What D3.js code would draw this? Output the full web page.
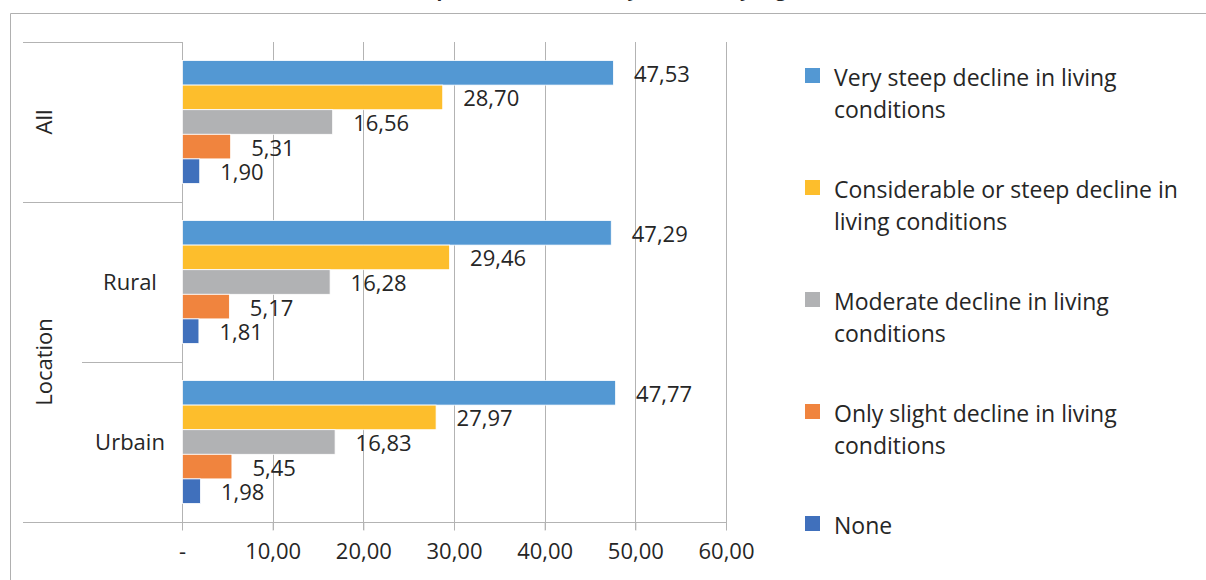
<!DOCTYPE html>
<html>
<head>
<meta charset="utf-8">
<script src="https://cdn.jsdelivr.net/npm/d3@7"></script>
<style>
  body { margin: 0; background: #fff; }
  svg text { font-family: "Open Sans", Lato, sans-serif; fill: #262626; }
</style>
</head>
<body>
<svg width="1206" height="580"></svg>
<script>
// data
var groups = ["All", "Rural", "Urbain"];
var series = [
  "Very steep decline in living conditions",
  "Considerable or steep decline in living conditions",
  "Moderate decline in living conditions",
  "Only slight decline in living conditions",
  "None"
];
var legendLines = [
  ["Very steep decline in living", "conditions"],
  ["Considerable or steep decline in", "living conditions"],
  ["Moderate decline in living", "conditions"],
  ["Only slight decline in living", "conditions"],
  ["None"]
];
var valAll = [47.53, 28.70, 16.56, 5.31, 1.90];
var valRural = [47.29, 29.46, 16.28, 5.17, 1.81];
var valUrbain = [47.77, 27.97, 16.83, 5.45, 1.98];
var ticks = [0, 10, 20, 30, 40, 50, 60];
var colors = ["#5398d3", "#fdbe2c", "#b1b2b4", "#f0843e", "#4070bc"];

var svg = d3.select("svg");
var values = { "All": valAll, "Rural": valRural, "Urbain": valUrbain };

var x = d3.scaleLinear().domain([0, 60]).range([182, 726]);
var y = d3.scaleBand().domain(groups).range([42, 522]);
var ys = d3.scaleBand().domain(series).range([18.5, 141.5]);
var color = d3.scaleOrdinal().domain(series).range(colors);
var fmt = function(v) { return d3.format(".2f")(v).replace(".", ","); };

// outer frame + title (cut by the top edge, as in the source)
svg.append("path")
  .attr("d", "M10.5,580 V13.5 H1206")
  .attr("fill", "none").attr("stroke", "#b0b0b0");
svg.append("text")
  .attr("x", 600).attr("y", -4)
  .attr("text-anchor", "middle")
  .style("font-weight", "bold").style("font-size", "19px")
  .text("Perceptions of the severity (%) level by region");

// gridlines
svg.append("g").selectAll("line")
  .data(ticks.slice(1))
  .enter().append("line")
  .attr("x1", function(d) { return Math.round(x(d)) + 0.5; })
  .attr("x2", function(d) { return Math.round(x(d)) + 0.5; })
  .attr("y1", 42).attr("y2", 530)
  .attr("stroke", "#b3b3b3");

// bottom axis
var xAxis = d3.axisBottom(x).tickValues(ticks).tickSize(8).tickPadding(13)
  .tickFormat(function(d) { return d === 0 ? "-" : fmt(d); });
var gx = svg.append("g").attr("transform", "translate(0,522.5)").call(xAxis);
gx.select(".domain").remove();
gx.selectAll(".tick line").attr("stroke", "#b3b3b3");
gx.selectAll(".tick text").style("font-size", "22px").style("fill", "#262626");
svg.append("line").attr("x1", 23).attr("x2", 726).attr("y1", 522.5).attr("y2", 522.5).attr("stroke", "#b3b3b3");

// left category structure
svg.append("line").attr("x1", 182.5).attr("x2", 182.5).attr("y1", 42).attr("y2", 530).attr("stroke", "#b3b3b3");
svg.append("line").attr("x1", 23).attr("x2", 182).attr("y1", 42.5).attr("y2", 42.5).attr("stroke", "#b3b3b3");
svg.append("line").attr("x1", 23).attr("x2", 182).attr("y1", y("Rural") + 0.5).attr("y2", y("Rural") + 0.5).attr("stroke", "#b3b3b3");
svg.append("line").attr("x1", 82).attr("x2", 182).attr("y1", y("Urbain") + 0.5).attr("y2", y("Urbain") + 0.5).attr("stroke", "#b3b3b3");

svg.append("text")
  .attr("transform", "translate(52," + (y("All") + y.bandwidth() / 2) + ") rotate(-90)")
  .attr("text-anchor", "middle").style("font-size", "22px").text("All");
svg.append("text")
  .attr("transform", "translate(52,362) rotate(-90)")
  .attr("text-anchor", "middle").style("font-size", "22px").text("Location");
["Rural", "Urbain"].forEach(function(g) {
  svg.append("text")
    .attr("x", 130).attr("y", y(g) + y.bandwidth() / 2 + 8)
    .attr("text-anchor", "middle").style("font-size", "22px").text(g);
});

// bars
groups.forEach(function(g) {
  var gg = svg.append("g").attr("transform", "translate(0," + y(g) + ")");
  var rows = series.map(function(s, i) { return { s: s, v: values[g][i] }; });
  gg.selectAll("rect").data(rows).enter().append("rect")
    .attr("x", x(0) + 0.5)
    .attr("y", function(d) { return ys(d.s); })
    .attr("width", function(d) { return x(d.v) - x(0); })
    .attr("height", ys.bandwidth())
    .attr("fill", function(d) { return color(d.s); })
    .attr("stroke", "#ffffff").attr("stroke-width", 0.8);
  gg.selectAll("text").data(rows).enter().append("text")
    .attr("x", function(d) { return x(d.v) + 21; })
    .attr("y", function(d) { return ys(d.s) + ys.bandwidth() / 2 + 9; })
    .style("font-size", "22px")
    .text(function(d) { return fmt(d.v); });
});

// legend
var leg = svg.append("g").selectAll("g").data(series).enter().append("g")
  .attr("transform", function(d, i) { return "translate(805," + (68 + i * 112) + ")"; });
leg.append("rect").attr("width", 15).attr("height", 15)
  .attr("fill", function(d) { return color(d); });
leg.append("text")
  .attr("x", 29).attr("y", 18)
  .style("font-size", "23px")
  .selectAll("tspan")
  .data(function(d, i) { return legendLines[i]; })
  .enter().append("tspan")
  .attr("x", 29).attr("dy", function(d, j) { return j === 0 ? 0 : 32; })
  .text(function(d) { return d; });
</script>
</body>
</html>
